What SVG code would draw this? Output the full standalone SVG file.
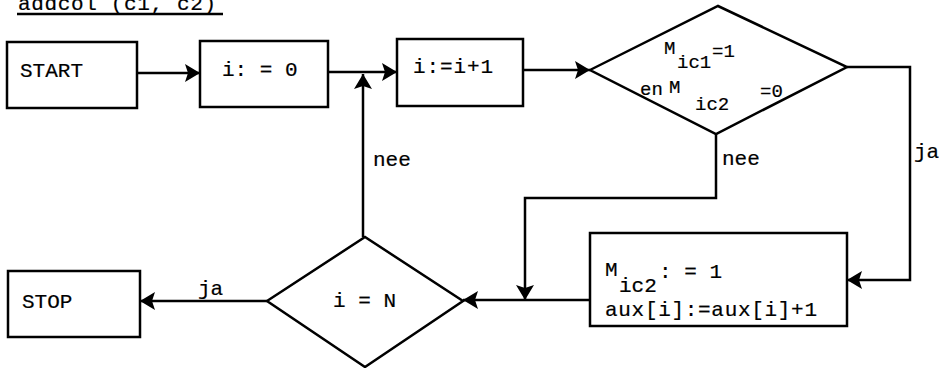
<svg xmlns="http://www.w3.org/2000/svg" width="941" height="368" viewBox="0 0 941 368">
<style>
.box{fill:none;stroke:#000;stroke-width:2.5}
.ln{fill:none;stroke:#000;stroke-width:2.5}
text{font-family:"Liberation Mono","Courier New",monospace;font-size:21px;fill:#000;stroke:#000;stroke-width:0.2}
.d{font-size:19px}
</style>
<defs>
<marker id="ah" markerUnits="userSpaceOnUse" markerWidth="16" markerHeight="20" refX="15" refY="10" orient="auto" viewBox="0 0 16 20">
<path d="M0,1 L15,10 L0,19 L3,10 z" fill="#000"/>
</marker>
</defs>
<rect width="941" height="368" fill="#fff"/>
<g id="title">
<text x="18" y="10" textLength="198">addcol (c1, c2)</text>
<line x1="17" y1="14" x2="223" y2="14" class="ln" stroke-width="2"/>
</g>
<g id="start">
<rect class="box" x="7" y="42" width="130" height="66"/>
<text x="20" y="77">START</text>
</g>
<g id="init">
<rect class="box" x="200" y="41" width="128" height="66"/>
<text x="222" y="76">i: = 0</text>
</g>
<g id="incr">
<rect class="box" x="397" y="39" width="126" height="67"/>
<text x="413" y="73" textLength="80">i:=i+1</text>
</g>
<g id="cond1">
<polygon class="box" points="590,70 718,6 847,67 716,134"/>
<text class="d" x="664" y="54">M</text>
<text class="d" x="677" y="68">ic1</text>
<text class="d" x="712" y="57">=1</text>
<text class="d" x="640" y="95">en</text>
<text class="d" x="669" y="93">M</text>
<text class="d" x="695" y="110">ic2</text>
<text class="d" x="760" y="97">=0</text>
</g>
<g id="update">
<rect class="box" x="590" y="233" width="257" height="93"/>
<text x="605" y="276">M</text>
<text x="619" y="292">ic2</text>
<text x="659" y="278">: = 1</text>
<text x="605" y="316" textLength="212">aux[i]:=aux[i]+1</text>
</g>
<g id="cond2">
<polygon class="box" points="267,301 365,237 463,301 365,367"/>
<text x="333" y="307">i = N</text>
</g>
<g id="stop">
<rect class="box" x="8" y="271" width="132" height="66"/>
<text x="22" y="308">STOP</text>
</g>
<g id="connectors">
<path class="ln" d="M137,73 L200,73" marker-end="url(#ah)"/>
<path class="ln" d="M328,72 L397,72" marker-end="url(#ah)"/>
<path class="ln" d="M523,70 L590,70" marker-end="url(#ah)"/>
<path class="ln" d="M847,67 L910,67 L910,280 L847,280" marker-end="url(#ah)"/>
<path class="ln" d="M716,134 L716,198 L525,198 L525,300" marker-end="url(#ah)"/>
<path class="ln" d="M590,300 L463,300" marker-end="url(#ah)"/>
<path class="ln" d="M363,237 L363,74" marker-end="url(#ah)"/>
<path class="ln" d="M267,301 L140,301" marker-end="url(#ah)"/>
<text x="373" y="166">nee</text>
<text x="722" y="165">nee</text>
<text x="914" y="158">ja</text>
<text x="198" y="295">ja</text>
</g>
</svg>
